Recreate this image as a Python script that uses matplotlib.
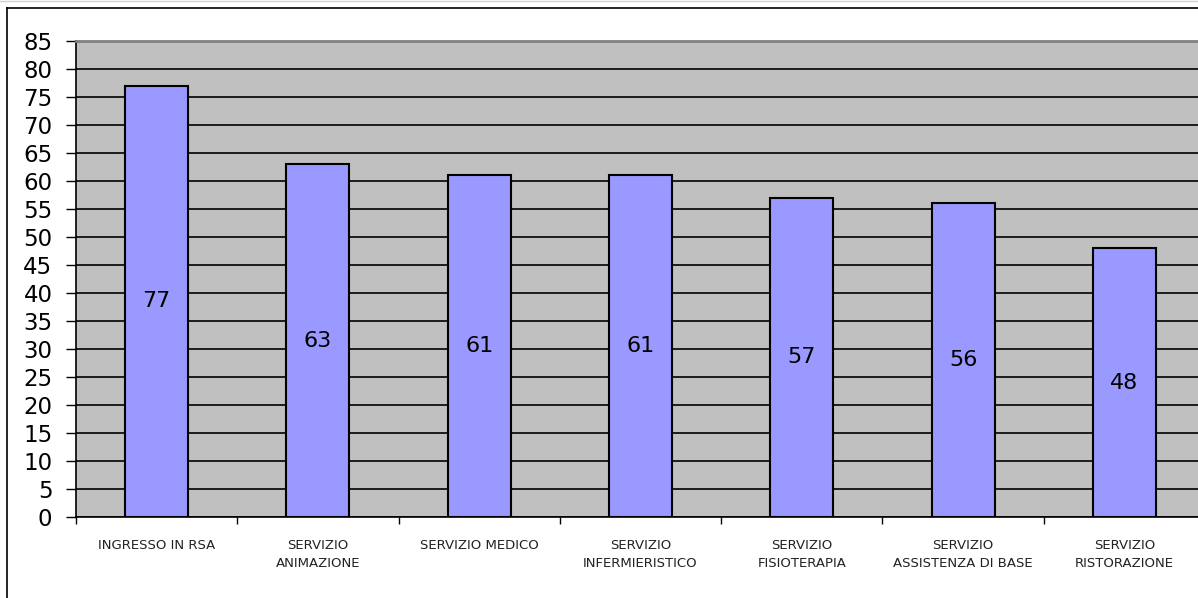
import matplotlib.pyplot as plt
from matplotlib.lines import Line2D
import numpy as np

categories = ["INGRESSO IN RSA", "SERVIZIO\nANIMAZIONE", "SERVIZIO MEDICO",
              "SERVIZIO\nINFERMIERISTICO", "SERVIZIO\nFISIOTERAPIA",
              "SERVIZIO\nASSISTENZA DI BASE", "SERVIZIO\nRISTORAZIONE"]
values = [77, 63, 61, 61, 57, 56, 48]

fig = plt.figure(figsize=(11.98, 5.98), dpi=100)
ax = fig.add_axes([76/1198, 81/598, 1129/1198, 476/598])
ax.set_facecolor("#c0c0c0")

x = np.arange(len(values))
bars = ax.bar(x, values, width=0.39, color="#9999ff", edgecolor="black",
              linewidth=1.5, zorder=3)
for b, v in zip(bars, values):
    ax.text(b.get_x() + b.get_width()/2, v/2, str(v), ha="center", va="center",
            fontsize=16, zorder=4)

ax.set_xlim(-0.5, len(values) - 0.5)
ax.set_ylim(0, 85)
ax.set_yticks(range(0, 86, 5))
ax.yaxis.grid(True, color="black", linewidth=1.2, zorder=1)
ax.set_axisbelow(True)
ax.tick_params(axis="y", labelsize=16.5, length=7, pad=10, width=1)

# boundaries between categories get the tick marks, names sit in the middle
ax.set_xticks(np.arange(len(values) + 1) - 0.5)
ax.set_xticklabels([])
ax.set_xticks(x, minor=True)
ax.set_xticklabels(categories, minor=True, fontsize=9.5, color="#222222",
                   linespacing=1.5)
ax.tick_params(axis="x", which="major", length=5, width=1)
ax.tick_params(axis="x", which="minor", length=0, pad=16)

ax.spines["top"].set_color("#808080")
ax.spines["top"].set_linewidth(2)
ax.spines["right"].set_visible(False)
ax.spines["left"].set_linewidth(1.2)
ax.spines["bottom"].set_linewidth(1.2)

# chart area frame
fig.add_artist(Line2D([7/1198, 1], [1 - 8/598, 1 - 8/598], color="black", lw=1.2))
fig.add_artist(Line2D([7/1198, 7/1198], [0, 1 - 8/598], color="black", lw=1.2))
fig.add_artist(Line2D([0, 1], [1 - 1/598, 1 - 1/598], color="#d0d0d0", lw=1))

fig.savefig("out.png", dpi=100)
